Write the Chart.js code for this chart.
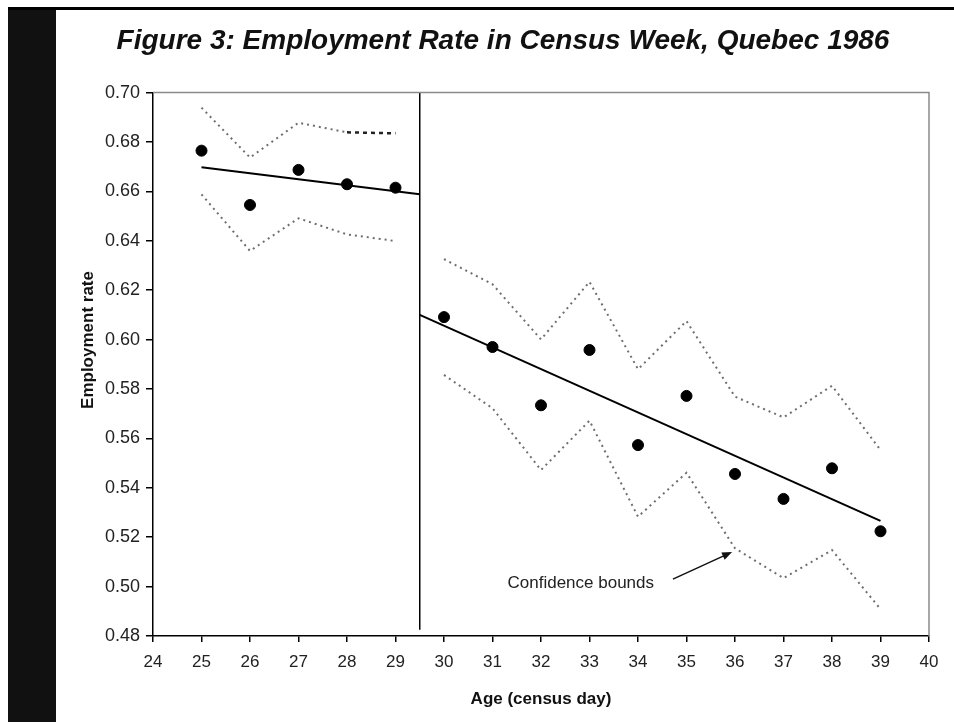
<!DOCTYPE html>
<html>
<head>
<meta charset="utf-8">
<script src="https://cdn.jsdelivr.net/npm/chart.js@4.4.1/dist/chart.umd.min.js"></script>
<style>
  html, body { margin: 0; padding: 0; background: #fff; }
  #wrap { width: 954px; height: 722px; }
</style>
</head>
<body>
<div id="wrap"><canvas id="myChart" width="954" height="722"></canvas></div>
<script>
// Edades (día del censo) y tasas
const edadesIzq = [25, 26, 27, 28, 29];
const tasaIzq = [0.6765, 0.6545, 0.6687, 0.6629, 0.6615];
const superiorIzq = [0.6939, 0.6737, 0.6878, 0.6839, 0.6835];
const inferiorIzq = [0.6588, 0.6359, 0.6491, 0.6426, 0.6399];

const edadesDer = [30, 31, 32, 33, 34, 35, 36, 37, 38, 39];
const tasaDer = [0.6091, 0.5970, 0.5734, 0.5958, 0.5573, 0.5772, 0.5456, 0.5355, 0.5479, 0.5224];
const superiorDer = [0.6326, 0.6224, 0.6001, 0.6234, 0.5880, 0.6075, 0.5769, 0.5685, 0.5813, 0.5553];
const inferiorDer = [0.5857, 0.5722, 0.5472, 0.5672, 0.5283, 0.5461, 0.5155, 0.5034, 0.5148, 0.4909];

// Rectas ajustadas (extremos)
const ajusteIzqX = [25, 29.5];
const ajusteIzqY = [0.6698, 0.6588];
const ajusteDerX = [29.5, 39];
const ajusteDerY = [0.6100, 0.5266];

// Corte en los 29.5 años
const corteX = [29.5, 29.5];
const corteY = [0.70, 0.4825];

// Anotación
const notaTexto = 'Confidence bounds';
const notaPos = { x: 32.82, y: 0.5015 };
const flechaDesde = { x: 34.72, y: 0.5030 };
const flechaHasta = { x: 35.94, y: 0.5140 };

const tituloY = 'Employment rate';

function puntos(xs, ys) {
    return xs.map((x, i) => ({ x: x, y: ys[i] }));
}

const gris = '#6e6e6e';
const fuente = '"Liberation Sans", Arial, sans-serif';

function cotas(xs, ys) {
    return {
        data: puntos(xs, ys), showLine: true, borderColor: gris, borderWidth: 2,
        borderDash: [2, 4], pointRadius: 0, fill: false
    };
}

// Plugin para el marco, la barra negra, el título del eje y la flecha
const extras = {
    id: 'extras',
    beforeDraw(chart) {
        const c = chart.ctx;
        c.save();
        c.fillStyle = '#fff';
        c.fillRect(0, 0, chart.width, chart.height);
        c.fillStyle = '#111';
        c.fillRect(8, 7, 48, chart.height - 7);
        c.fillStyle = '#000';
        c.fillRect(8, 7, chart.width - 8, 3);
        c.restore();
    },
    afterDraw(chart) {
        const c = chart.ctx;
        const a = chart.chartArea;
        const sx = chart.scales.x, sy = chart.scales.y;
        c.save();
        // borde superior y derecho
        c.strokeStyle = '#8a8a8a';
        c.lineWidth = 1.5;
        c.beginPath();
        c.moveTo(a.left, a.top);
        c.lineTo(a.right, a.top);
        c.lineTo(a.right, a.bottom);
        c.stroke();
        // título del eje y
        c.fillStyle = '#111';
        c.font = 'bold 17px ' + fuente;
        c.textAlign = 'center';
        c.textBaseline = 'middle';
        c.translate(88, 340);
        c.rotate(-Math.PI / 2);
        c.fillText(tituloY, 0, 0);
        c.restore();

        c.save();
        c.fillStyle = '#222';
        c.font = '17px ' + fuente;
        c.textAlign = 'center';
        c.textBaseline = 'middle';
        c.fillText(notaTexto, sx.getPixelForValue(notaPos.x), sy.getPixelForValue(notaPos.y));
        const x1 = sx.getPixelForValue(flechaDesde.x), y1 = sy.getPixelForValue(flechaDesde.y);
        const x2 = sx.getPixelForValue(flechaHasta.x), y2 = sy.getPixelForValue(flechaHasta.y);
        const ang = Math.atan2(y2 - y1, x2 - x1);
        c.strokeStyle = '#111';
        c.lineWidth = 1.5;
        c.beginPath();
        c.moveTo(x1, y1);
        c.lineTo(x2 - 8 * Math.cos(ang), y2 - 8 * Math.sin(ang));
        c.stroke();
        c.fillStyle = '#111';
        c.beginPath();
        c.moveTo(x2, y2);
        c.lineTo(x2 - 10 * Math.cos(ang) + 4 * Math.sin(ang), y2 - 10 * Math.sin(ang) - 4 * Math.cos(ang));
        c.lineTo(x2 - 10 * Math.cos(ang) - 4 * Math.sin(ang), y2 - 10 * Math.sin(ang) + 4 * Math.cos(ang));
        c.closePath();
        c.fill();
        c.restore();
    }
};

let myChart;

function crearGrafico() {
    const ctx = document.getElementById('myChart').getContext('2d');
    myChart = new Chart(ctx, {
        type: 'scatter',
        data: {
            datasets: [
                cotas(edadesIzq.slice(0, 4), superiorIzq.slice(0, 4)),
                {
                    // tramo final más oscuro de la cota superior
                    data: puntos(edadesIzq.slice(3), superiorIzq.slice(3)), showLine: true,
                    borderColor: '#222', borderWidth: 2.5, borderDash: [4, 4], pointRadius: 0
                },
                cotas(edadesIzq, inferiorIzq),
                cotas(edadesDer, superiorDer),
                cotas(edadesDer, inferiorDer),
                {
                    data: puntos(ajusteIzqX, ajusteIzqY), showLine: true,
                    borderColor: '#000', borderWidth: 2, pointRadius: 0
                },
                {
                    data: puntos(ajusteDerX, ajusteDerY), showLine: true,
                    borderColor: '#000', borderWidth: 2, pointRadius: 0
                },
                {
                    data: puntos(corteX, corteY), showLine: true,
                    borderColor: '#000', borderWidth: 1.5, pointRadius: 0
                },
                {
                    data: puntos(edadesIzq, tasaIzq),
                    backgroundColor: '#000', borderColor: '#000', pointRadius: 5.5
                },
                {
                    data: puntos(edadesDer, tasaDer),
                    backgroundColor: '#000', borderColor: '#000', pointRadius: 5.5
                }
            ]
        },
        options: {
            responsive: false,
            animation: false,
            layout: { padding: { left: 77, right: 25, top: 12, bottom: 8 } },
            plugins: {
                legend: { display: false },
                tooltip: { enabled: false },
                title: {
                    display: true,
                    text: 'Figure 3: Employment Rate in Census Week, Quebec 1986',
                    color: '#111',
                    font: { family: fuente, size: 28, weight: 'bold', style: 'italic' },
                    padding: { top: 12, bottom: 35 }
                }
            },
            scales: {
                x: {
                    type: 'linear',
                    min: 24, max: 40,
                    afterFit: (s) => { s.height = 78; },
                    border: { display: true, color: '#000', width: 1.5 },
                    grid: { drawOnChartArea: false, drawTicks: true, tickLength: 6, color: '#000', lineWidth: 1.5 },
                    ticks: {
                        stepSize: 1, padding: 10, color: '#222',
                        font: { family: fuente, size: 17 }
                    },
                    title: {
                        display: true, text: 'Age (census day)', color: '#111',
                        font: { family: fuente, size: 17, weight: 'bold' },
                        padding: { top: 4, bottom: 4 }
                    }
                },
                y: {
                    min: 0.48, max: 0.70,
                    afterFit: (s) => { s.width = 76; },
                    border: { display: true, color: '#000', width: 1.5 },
                    grid: { drawOnChartArea: false, drawTicks: true, tickLength: 7, color: '#000', lineWidth: 1.5 },
                    ticks: {
                        stepSize: 0.02, padding: 6, color: '#222',
                        font: { family: fuente, size: 18 },
                        callback: (v) => v.toFixed(2)
                    }
                }
            }
        },
        plugins: [extras]
    });
}

crearGrafico();
</script>
</body>
</html>
